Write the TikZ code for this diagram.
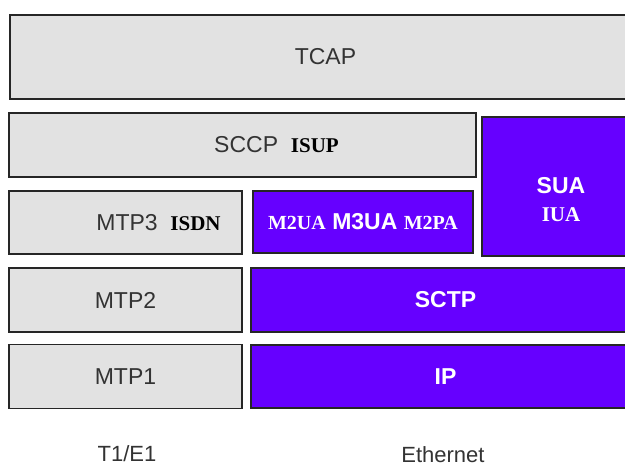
\documentclass[tikz,border=0pt]{standalone}
\usepackage{fontspec}
\setmainfont{Liberation Serif}
\setsansfont{Liberation Sans}
\usetikzlibrary{positioning}
\definecolor{cgrey}{HTML}{E2E2E2}
\definecolor{cpurple}{HTML}{6600FF}
\definecolor{ctext}{HTML}{333333}
\tikzset{
  every picture/.style={font=\sffamily, line width=1.3pt},
  layer/.style={draw=black!85, fill=cgrey, inner sep=0pt, text=ctext,
    font=\sffamily\fontsize{23}{26}\selectfont},
  ulayer/.style={layer, fill=cpurple, text=white,
    font=\sffamily\bfseries\fontsize{23}{26}\selectfont},
  media/.style={text=ctext, font=\sffamily\fontsize{22}{26}\selectfont},
}

\begin{document}
\begin{tikzpicture}[x=1pt, y=-1pt]
  \useasboundingbox (0,0) rectangle (625,468);
  \clip (0,0) rectangle (625,468);
  % SS7 side
  \node[layer, minimum width=631, minimum height=84] (tcap) at (325.5,57) {TCAP};
  \node[layer, minimum width=467, minimum height=64,
    label={[xshift=34pt, text=ctext, font=\sffamily\fontsize{23}{26}\selectfont]center:SCCP\ \ {\color{black}\rmfamily\bfseries\fontsize{21}{24}\selectfont ISUP}}] (sccp) at (242.5,145) {};
  \node[layer, minimum width=233, minimum height=63,
    label={[xshift=33pt, text=ctext, font=\sffamily\fontsize{23}{26}\selectfont]center:MTP3\ \ {\color{black}\rmfamily\bfseries\fontsize{21}{24}\selectfont ISDN}}] (mtp3) at (125.5,222.5) {};
  \node[layer, minimum width=233, minimum height=64] (mtp2) at (125.5,300) {MTP2};
  \node[layer, minimum width=233, minimum height=64] (mtp1) at (125.5,376.5) {MTP1};
  % SIGTRAN side
  \node[ulayer, minimum width=158, minimum height=139,
    label={[yshift=-13pt, align=center, text=white, font=\fontsize{23}{28}\selectfont]center:{\sffamily\bfseries SUA}\\{\rmfamily\bfseries\fontsize{21}{28}\selectfont IUA}}] (sua) at (561,186.5) {};
  \node[ulayer, minimum width=220, minimum height=62] (m3ua) at (363,222)
    {{\rmfamily\fontsize{20}{24}\selectfont M2UA}\ M3UA\ {\rmfamily\fontsize{20}{24}\selectfont M2PA}};
  \node[ulayer, minimum width=389, minimum height=64] (sctp) at (445.5,300) {SCTP};
  \node[ulayer, minimum width=389, minimum height=63] (ip) at (445.5,376.5) {IP};
  % physical media
  \node[media] (t1e1) at (127,454) {T1/E1};
  \node[media] (eth) at (443,455) {Ethernet};
\end{tikzpicture}
\end{document}
